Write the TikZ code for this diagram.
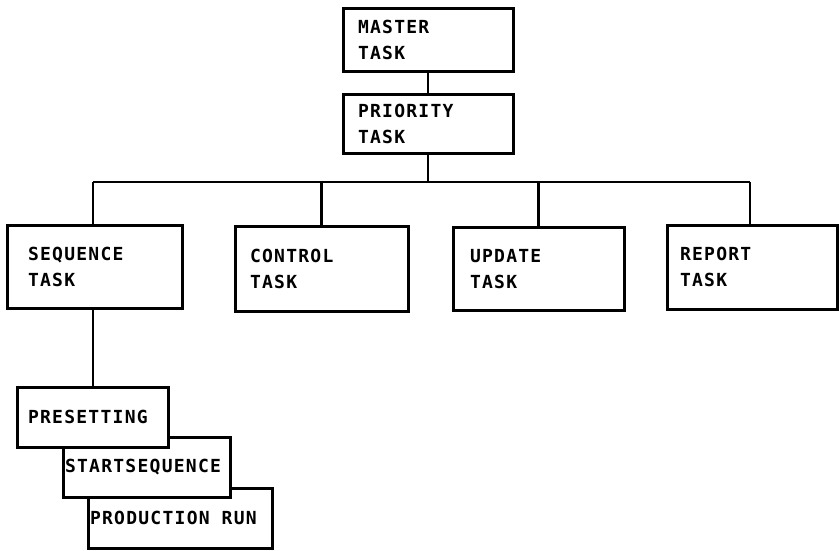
\documentclass[tikz,border=0pt]{standalone}
\usepackage{fontspec}
\setmonofont[LetterSpace=7]{DejaVu Sans Mono}
\begin{document}
\begin{tikzpicture}[x=1pt,y=-1pt,
  box/.style={draw, line width=3pt, fill=white, rectangle, align=left,
    inner ysep=2pt, font=\ttfamily\bfseries\fontsize{18pt}{26pt}\selectfont},
  stackbox/.style={box, minimum height=60pt},
  conn/.style={line width=2.2pt}]
\useasboundingbox (0,0) rectangle (839,550);
% top
\node[box, text width=140pt, inner xsep=15pt, minimum height=63pt] (master) at (428,39.5) {MASTER\\TASK};
\node[box, text width=140pt, inner xsep=15pt, minimum height=59pt] (priority) at (428,123.5) {PRIORITY\\TASK};
% middle row
\node[box, text width=133pt, inner xsep=21pt, minimum height=83pt] (sequence) at (94.5,266.5) {SEQUENCE\\TASK};
\node[box, text width=143pt, inner xsep=15pt, minimum height=85pt] (control) at (321.5,268.5) {CONTROL\\TASK};
\node[box, text width=137pt, inner xsep=17pt, minimum height=83pt] (update) at (538.5,269) {UPDATE\\TASK};
\node[box, text width=144pt, inner xsep=13pt, minimum height=84pt] (report) at (752,267) {REPORT\\TASK};
% connectors
\coordinate (busL) at (93,182);
\coordinate (busR) at (750,182);
\draw[conn] (master.south) -- (priority.north);
\draw[conn] (priority.south) -- (priority.south |- busL);
\draw[conn] (busL) -- (busR);
\draw[conn] (busL) -- (busL |- sequence.north);
\draw[conn] (control.north |- busL) -- (control.north);
\draw[conn] (update.north |- busL) -- (update.north);
\draw[conn] (busR) -- (busR |- report.north);
% lower stack
\node[stackbox, text width=180pt, inner xsep=2pt] (production) at (180,518) {PRODUCTION\hspace*{6pt} RUN};
\node[stackbox, text width=163pt, inner xsep=2pt] (startseq) at (146.5,467) {STARTSEQUENCE};
\node[stackbox, text width=129pt, inner xsep=11pt] (presetting) at (92.5,417) {PRESETTING};
\draw[conn] (busL |- sequence.south) -- (busL |- presetting.north);
\end{tikzpicture}
\end{document}
